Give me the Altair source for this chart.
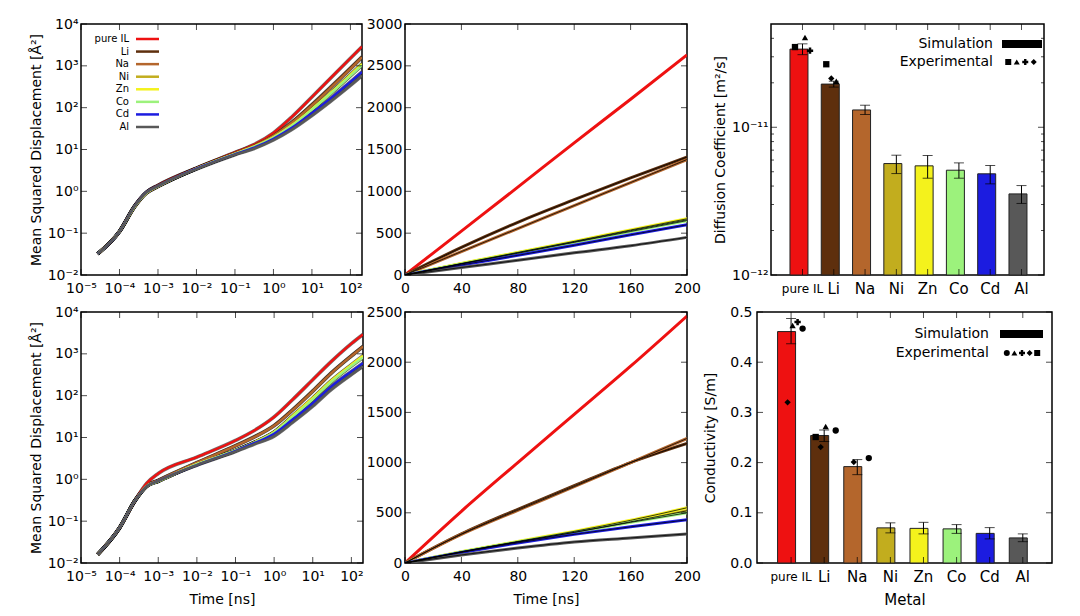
import json
import altair as alt
import pandas as pd

FONT = "DejaVu Sans"

SERIES = ["pure IL", "Li", "Na", "Ni", "Zn", "Co", "Cd", "Al"]
LINE_COLORS = ["#ee1111", "#5e2f0d", "#b4662c", "#c2ad1e", "#f4f21c", "#9cf27c", "#1c1ce0", "#585858"]
BAR_COLORS = ["#ff0000", "#6b3306", "#b85a0c", "#c9b708", "#fbf200", "#a3ff72", "#2222ee", "#666666"]

# ---- MSD, log-log panels (time in ns, MSD in A^2) ----
LOG_T = [2.7e-5, 1e-4, 2.5e-4, 5e-4, 1e-3, 1e-2, 1e-1, 0.3, 1, 3, 10, 30, 100, 200]
MSD_LOG_TOP = [
    [0.032, 0.11, 0.45, 0.95, 1.40, 3.6, 8.5, 12.9, 25.0, 60, 180, 500, 1520, 2870],
    [0.032, 0.11, 0.45, 0.95, 1.38, 3.6, 8.3, 12.3, 21.9, 45, 119, 305, 880, 1650],
    [0.032, 0.11, 0.43, 0.90, 1.30, 3.5, 8.1, 12.0, 21.2, 43.5, 114, 292, 845, 1590],
    [0.032, 0.11, 0.44, 0.92, 1.32, 3.5, 7.9, 11.5, 19.5, 37.5, 91, 218, 595, 1070],
    [0.032, 0.11, 0.44, 0.92, 1.32, 3.5, 7.9, 11.5, 19.6, 38, 93, 224, 615, 1110],
    [0.032, 0.11, 0.44, 0.92, 1.32, 3.5, 7.9, 11.4, 19.2, 37, 89, 212, 575, 1030],
    [0.032, 0.11, 0.45, 0.95, 1.35, 3.5, 7.7, 10.9, 18.1, 33, 75, 165, 412, 717],
    [0.032, 0.11, 0.45, 0.95, 1.35, 3.4, 7.5, 10.4, 16.9, 30, 65, 140, 340, 584],
]
MSD_LOG_BOTTOM = [
    [0.016, 0.07, 0.31, 0.80, 1.38, 3.4, 8.5, 14.5, 31, 80, 240, 650, 1750, 2900],
    [0.016, 0.07, 0.31, 0.70, 0.95, 2.5, 6.4, 10.3, 19.5, 46, 130, 350, 900, 1500],
    [0.016, 0.07, 0.31, 0.70, 0.95, 2.5, 6.3, 10.1, 19.0, 45, 127, 342, 885, 1490],
    [0.016, 0.07, 0.31, 0.68, 0.90, 2.3, 4.9, 7.6, 13.5, 32, 85, 220, 530, 860],
    [0.016, 0.07, 0.31, 0.68, 0.90, 2.3, 4.9, 7.6, 13.6, 33, 88, 228, 550, 900],
    [0.016, 0.07, 0.31, 0.68, 0.90, 2.3, 4.9, 7.5, 13.2, 31, 82, 212, 510, 820],
    [0.016, 0.07, 0.31, 0.68, 0.92, 2.2, 4.8, 7.3, 12.3, 27, 66, 165, 380, 600],
    [0.016, 0.07, 0.31, 0.68, 0.92, 2.2, 4.6, 6.9, 10.8, 23, 56, 140, 320, 500],
]

# ---- MSD, linear panels ----
LIN_T = [0, 40, 80, 120, 160, 200]
MSD_LIN_TOP = [
    [0, 525, 1050, 1580, 2100, 2630],
    [0, 330, 630, 900, 1160, 1410],
    [0, 280, 555, 830, 1105, 1380],
    [0, 135, 265, 395, 530, 660],
    [0, 138, 270, 402, 538, 672],
    [0, 133, 260, 390, 520, 650],
    [0, 120, 235, 355, 480, 600],
    [0, 90, 175, 265, 350, 450],
]
MSD_LIN_BOTTOM = [
    [0, 515, 1000, 1480, 1960, 2460],
    [0, 290, 535, 770, 1000, 1190],
    [0, 285, 525, 760, 1000, 1240],
    [0, 110, 210, 305, 410, 520],
    [0, 112, 215, 315, 425, 550],
    [0, 110, 210, 305, 405, 500],
    [0, 105, 200, 285, 360, 430],
    [0, 80, 150, 210, 250, 290],
]

X_LOG_EXP = [-5, -4, -3, -2, -1, 0, 1, 2]
Y_LOG_EXP = [-2, -1, 0, 1, 2, 3, 4]
LIN_X_TICKS = [0, 40, 80, 120, 160, 200]
LIN_Y_TICKS_TOP = [0, 500, 1000, 1500, 2000, 2500, 3000]
LIN_Y_TICKS_BOTTOM = [0, 500, 1000, 1500, 2000, 2500]

# ---- Diffusion coefficient (m^2/s) ----
D_SIM = [3.38e-11, 1.96e-11, 1.31e-11, 5.68e-12, 5.48e-12, 5.12e-12, 4.84e-12, 3.54e-12]
D_LO = [3.10e-11, 1.87e-11, 1.22e-11, 4.86e-12, 4.52e-12, 4.52e-12, 4.14e-12, 3.05e-12]
D_HI = [3.67e-11, 2.05e-11, 1.41e-11, 6.47e-12, 6.44e-12, 5.74e-12, 5.51e-12, 4.03e-12]
D_EXP_METAL = ["pure IL", "pure IL", "pure IL", "Li", "Li", "Li"]
D_EXP_SHAPE = ["square", "triangle", "cross", "square", "diamond", "triangle"]
D_EXP_VAL = [3.49e-11, 4.05e-11, 3.30e-11, 2.67e-11, 2.14e-11, 2.05e-11]
D_LEGEND_SHAPES = ["square", "triangle", "cross", "diamond"]
D_OFFSET_ORDER = ["square", "diamond", "triangle", "cross"]
D_Y_EXP = [-12, -11]
D_Y_BASE = 1e-12
D_Y_MINOR = [2e-12, 3e-12, 4e-12, 5e-12, 6e-12, 7e-12, 8e-12, 9e-12, 2e-11, 3e-11, 4e-11]

# ---- Conductivity (S/m) ----
C_SIM = [0.461, 0.254, 0.192, 0.070, 0.069, 0.068, 0.059, 0.050]
C_LO = [0.437, 0.242, 0.176, 0.060, 0.058, 0.059, 0.048, 0.0425]
C_HI = [0.487, 0.265, 0.206, 0.080, 0.081, 0.0765, 0.0705, 0.058]
C_EXP_METAL = ["pure IL"] * 4 + ["Li"] * 4 + ["Na"] * 2
C_EXP_SHAPE = ["circle", "triangle", "cross", "diamond", "circle", "triangle", "diamond", "square", "circle", "diamond"]
C_EXP_VAL = [0.467, 0.473, 0.480, 0.320, 0.264, 0.272, 0.231, 0.251, 0.209, 0.201]
C_LEGEND_SHAPES = ["circle", "triangle", "cross", "diamond", "square"]
C_OFFSET_ORDER = ["circle", "diamond", "triangle", "square", "cross"]
C_Y_TICKS = [0.0, 0.1, 0.2, 0.3, 0.4, 0.5]

SHAPE_NAMES = ["square", "triangle", "cross", "diamond", "circle"]
SHAPE_SYMBOLS = ["square", "triangle-up", "cross", "diamond", "circle"]

SUP = str.maketrans("-0123456789", "⁻⁰¹²³⁴⁵⁶⁷⁸⁹")


def pow10(e):
    return "10" + str(e).translate(SUP)


def log_expr(exps):
    arr = json.dumps([pow10(e) for e in exps], ensure_ascii=False)
    return arr + "[round(log(datum.value) / LN10) - (" + str(exps[0]) + ")]"


def long_df(times, rows, tcol, vcol):
    recs = []
    for name, vals in zip(SERIES, rows):
        for t, v in zip(times, vals):
            recs.append({"series": name, tcol: t, vcol: v})
    return pd.DataFrame(recs)


def ticks_x(values, field, typ, scale, h, size=6):
    df = pd.DataFrame({field: values})
    enc = alt.X(f"{field}:{typ}", scale=scale)
    base = alt.Chart(df).mark_tick(orient="vertical", size=size, thickness=1, color="black")
    return [base.encode(x=enc, y=alt.value(size / 2)), base.encode(x=enc, y=alt.value(h - size / 2))]


def ticks_y(values, field, scale, w, size=6):
    df = pd.DataFrame({field: values})
    enc = alt.Y(f"{field}:Q", scale=scale)
    base = alt.Chart(df).mark_tick(orient="horizontal", size=size, thickness=1, color="black")
    return [base.encode(y=enc, x=alt.value(size / 2)), base.encode(y=enc, x=alt.value(w - size / 2))]


COLOR_LINES = alt.Scale(domain=SERIES, range=LINE_COLORS)
COLOR_BARS = alt.Scale(domain=SERIES, range=BAR_COLORS)
SHAPE_SCALE = alt.Scale(domain=SHAPE_NAMES, range=SHAPE_SYMBOLS)
ONE = pd.DataFrame({"k": [0]})


def spacer(w, h):
    return alt.Chart(ONE).mark_text(text="").encode(
        x=alt.value(0), y=alt.value(0)
    ).properties(width=w, height=h, view={"stroke": "transparent"})


def msd_log_panel(rows, w, h, x_title, x_ext, legend):
    df = long_df(LOG_T, rows, "t", "msd")
    xs = alt.Scale(type="log", domain=[1e-5, 200], nice=False)
    ys = alt.Scale(type="log", domain=[1e-2, 1e4], nice=False)
    xa = alt.Axis(values=[10.0 ** e for e in X_LOG_EXP], labelExpr=log_expr(X_LOG_EXP),
                  title=x_title, labelPadding=6, minExtent=x_ext, maxExtent=x_ext,
                  titlePadding=7, labelFlush=False, labelOverlap=False)
    ya = alt.Axis(values=[10.0 ** e for e in Y_LOG_EXP], labelExpr=log_expr(Y_LOG_EXP),
                  title="Mean Squared Displacement [Å²]", labelPadding=3, minExtent=34, maxExtent=34,
                  titlePadding=4, labelFlush=False, labelOverlap=False)
    under = alt.Chart(df).mark_line(strokeWidth=3.6, color="black", opacity=0.55, clip=True,
                                    interpolate="monotone").encode(
        x=alt.X("t:Q", scale=xs, axis=xa),
        y=alt.Y("msd:Q", scale=ys, axis=ya),
        detail="series:N",
    )
    lines = alt.Chart(df).mark_line(strokeWidth=2.4, clip=True, interpolate="monotone").encode(
        x=alt.X("t:Q", scale=xs),
        y=alt.Y("msd:Q", scale=ys),
        color=alt.Color("series:N", scale=COLOR_LINES, legend=None),
    )
    layers = [under, lines] + ticks_x([10.0 ** e for e in X_LOG_EXP], "t", "Q", xs, h) \
        + ticks_y([10.0 ** e for e in Y_LOG_EXP], "msd", ys, w)
    main = alt.layer(*layers)
    if not legend:
        return main.properties(width=w, height=h)
    leg_df = pd.DataFrame({"series": SERIES, "row": list(range(len(SERIES)))})
    ly = alt.Y("row:Q", scale=alt.Scale(domain=[0, 7], range=[15, 103]), axis=None)
    lt = alt.Chart(leg_df).mark_text(align="right", baseline="middle", fontSize=10, font=FONT,
                                     color="black").encode(x=alt.value(48), y=ly, text="series:N")
    ll = alt.Chart(leg_df).mark_rule(strokeWidth=2.5).encode(
        x=alt.value(55), x2=alt.value(78), y=ly,
        color=alt.Color("series:N", scale=COLOR_LINES, legend=None))
    return alt.layer(main, lt, ll).resolve_scale(y="independent").properties(width=w, height=h)


def msd_lin_panel(rows, w, h, y_max, y_ticks, x_title, x_ext, y_ext):
    df = long_df(LIN_T, rows, "t", "msd")
    xs = alt.Scale(domain=[0, 200], nice=False)
    ys = alt.Scale(domain=[0, y_max], nice=False)
    xa = alt.Axis(values=LIN_X_TICKS, title=x_title, labelPadding=6, minExtent=x_ext, maxExtent=x_ext,
                  titlePadding=7, labelFlush=False, labelOverlap=False)
    ya = alt.Axis(values=y_ticks, format="d", title=None, labelPadding=3, minExtent=y_ext,
                  maxExtent=y_ext, labelFlush=False, labelOverlap=False)
    lines = alt.Chart(df).mark_line(strokeWidth=3, clip=True, interpolate="monotone").encode(
        x=alt.X("t:Q", scale=xs, axis=xa),
        y=alt.Y("msd:Q", scale=ys, axis=ya),
        color=alt.Color("series:N", scale=COLOR_LINES, legend=None),
    )
    fits = alt.Chart(df).transform_filter("datum.series != 'pure IL'").mark_line(
        strokeWidth=0.9, color="black", opacity=0.85, clip=True, interpolate="monotone").encode(
        x=alt.X("t:Q", scale=xs),
        y=alt.Y("msd:Q", scale=ys),
        detail="series:N",
    )
    layers = [lines, fits] + ticks_x(LIN_X_TICKS, "t", "Q", xs, h) + ticks_y(y_ticks, "msd", ys, w)
    return alt.layer(*layers).properties(width=w, height=h)


def bar_panel(sim, lo, hi, ys, ya, y_base, y_major, y_minor, exp_metal, exp_shape, exp_val,
              x_scale, offset_order, off_pad, off_align, x_title, x_ext,
              w, h, leg_shapes, leg_text_x, leg_y1, leg_y2, rect_x, marker_range):
    df = pd.DataFrame({"metal": SERIES, "val": sim, "lo": lo, "hi": hi})
    xa = alt.Axis(title=x_title, labelAngle=0, labelPadding=13, labelBaseline="middle",
                  minExtent=x_ext, maxExtent=x_ext, titlePadding=7,
                  labelFontSize={"condition": {"test": "datum.value === 'pure IL'", "value": 12}, "value": 15},
                  titleFontSize=15)
    x = alt.X("metal:N", sort=SERIES, scale=x_scale, axis=xa)
    xn = alt.X("metal:N", sort=SERIES, scale=x_scale)
    bars = alt.Chart(df).mark_bar(stroke="#222222", strokeWidth=1).encode(
        x=x, y=alt.Y("val:Q", scale=ys, axis=ya), y2=alt.datum(y_base),
        color=alt.Color("metal:N", scale=COLOR_BARS, legend=None))
    err = alt.Chart(df).mark_rule(color="black", strokeWidth=1).encode(
        x=xn, y=alt.Y("lo:Q", scale=ys), y2="hi:Q")
    cap_lo = alt.Chart(df).mark_tick(orient="horizontal", size=10, thickness=1, color="black").encode(
        x=xn, y=alt.Y("lo:Q", scale=ys))
    cap_hi = alt.Chart(df).mark_tick(orient="horizontal", size=10, thickness=1, color="black").encode(
        x=xn, y=alt.Y("hi:Q", scale=ys))
    edf = pd.DataFrame({"metal": exp_metal, "shape": exp_shape, "val": exp_val})
    exp = alt.Chart(edf).mark_point(filled=True, color="black", opacity=1, size=40).encode(
        x=xn,
        xOffset=alt.XOffset("shape:N", scale=alt.Scale(domain=offset_order, paddingInner=0,
                                                         paddingOuter=off_pad, align=off_align)),
        y=alt.Y("val:Q", scale=ys),
        shape=alt.Shape("shape:N", scale=SHAPE_SCALE, legend=None))
    layers = [bars, err, cap_lo, cap_hi, exp]
    layers += ticks_x(SERIES, "metal", "N", x_scale, h)
    layers += ticks_y(y_major, "val", ys, w, size=6)
    if y_minor:
        layers += ticks_y(y_minor, "val", ys, w, size=3)
    main = alt.layer(*layers)

    t1 = alt.Chart(ONE).mark_text(text="Simulation", align="right", baseline="middle", fontSize=14,
                                  font=FONT, color="black").encode(x=alt.value(leg_text_x), y=alt.value(leg_y1))
    r1 = alt.Chart(ONE).mark_rect(color="black").encode(
        x=alt.value(rect_x[0]), x2=alt.value(rect_x[1]), y=alt.value(leg_y1 - 4), y2=alt.value(leg_y1 + 4))
    t2 = alt.Chart(ONE).mark_text(text="Experimental", align="right", baseline="middle", fontSize=14,
                                  font=FONT, color="black").encode(x=alt.value(leg_text_x), y=alt.value(leg_y2))
    m2 = alt.Chart(pd.DataFrame({"shape": leg_shapes})).mark_point(
        filled=True, color="black", opacity=1, size=36).encode(
        x=alt.X("shape:N", scale=alt.Scale(type="point", domain=leg_shapes, range=marker_range), axis=None),
        y=alt.value(leg_y2),
        shape=alt.Shape("shape:N", scale=SHAPE_SCALE, legend=None))
    return alt.layer(main, t1, r1, t2, m2).resolve_scale(x="independent").properties(width=w, height=h)


H = 251

tl = msd_log_panel(MSD_LOG_TOP, 281, H, None, 20, True)
tm = msd_lin_panel(MSD_LIN_TOP, 282, H, 3000, LIN_Y_TICKS_TOP, None, 20, 30)
tr = bar_panel(
    D_SIM, D_LO, D_HI,
    alt.Scale(type="log", domain=[1e-12, 5e-11], nice=False),
    alt.Axis(values=[10.0 ** e for e in D_Y_EXP], labelExpr=log_expr(D_Y_EXP),
             title="Diffusion Coefficient [m²/s]", labelPadding=3, minExtent=38, maxExtent=38,
             titlePadding=6, labelFlush=False, labelOverlap=False),
    D_Y_BASE, [10.0 ** e for e in D_Y_EXP], D_Y_MINOR,
    D_EXP_METAL, D_EXP_SHAPE, D_EXP_VAL,
    alt.Scale(domain=SERIES, paddingInner=0.2, paddingOuter=0.463, align=0.655),
    D_OFFSET_ORDER, 0.5, 1.0, None, 20,
    273, H, D_LEGEND_SHAPES, 222, 20, 38, (231, 271), [233, 267])

bl = msd_log_panel(MSD_LOG_BOTTOM, 282, H, "Time [ns]", 22, False)
bm = msd_lin_panel(MSD_LIN_BOTTOM, 282, H, 2500, LIN_Y_TICKS_BOTTOM, "Time [ns]", 22, 30)
br = bar_panel(
    C_SIM, C_LO, C_HI,
    alt.Scale(domain=[0, 0.5], nice=False),
    alt.Axis(values=C_Y_TICKS, format=".1f", title="Conductivity [S/m]", labelPadding=5,
             minExtent=30, maxExtent=30, titlePadding=10, labelFlush=False, labelOverlap=False),
    0.0, C_Y_TICKS, None,
    C_EXP_METAL, C_EXP_SHAPE, C_EXP_VAL,
    alt.Scale(domain=SERIES, paddingInner=0.184, paddingOuter=0.548, align=0.567),
    C_OFFSET_ORDER, 0.676, 0.85, "Metal", 22,
    295, H, C_LEGEND_SHAPES, 232, 22, 41, (243, 286), [246, 284])

top = alt.hconcat(tl, spacer(43, H), tm, spacer(84, H), tr, spacing=0, bounds="flush")
bottom = alt.hconcat(bl, spacer(42, H), bm, spacer(70, H), br, spacing=0, bounds="flush")

chart = alt.vconcat(top, bottom, spacing=7).properties(
    padding={"left": 20, "top": 8, "right": 5, "bottom": 0}
).configure(font=FONT).configure_view(
    stroke="black", strokeWidth=1.5
).configure_axis(
    ticks=False, domain=False, grid=False, labelFont=FONT, titleFont=FONT,
    labelFontSize=14, titleFontSize=14, labelColor="black", titleColor="black",
    titleFontWeight="normal"
)

chart.save("out.html", embed_options={"renderer": "svg", "actions": False})
